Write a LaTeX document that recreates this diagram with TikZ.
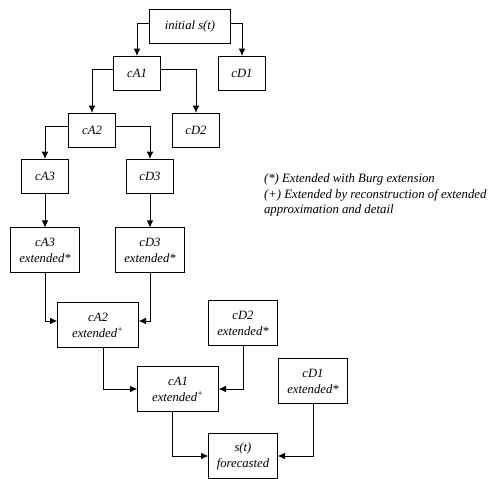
\documentclass[tikz,border=0pt]{standalone}
\usepackage{fontspec}
\setmainfont{Liberation Serif}
\usetikzlibrary{positioning,arrows.meta}
\tikzstyle{every node}=[font=\fontsize{9.5}{10}\selectfont\itshape,inner sep=0, outer sep=0]
\tikzstyle{blk}=[draw,rectangle,minimum width=35pt,minimum height=25.5pt,align=center]
\tikzstyle{ext}=[draw,rectangle,minimum width=52pt,minimum height=33.5pt,align=center]
\tikzstyle{rec}=[draw,rectangle,minimum width=61pt,minimum height=33.5pt,align=center]
\tikzstyle{arr}=[-{Latex[length=5.5pt,width=5pt]},line width=0.7pt]

\begin{document}
\begin{tikzpicture}[x=0.75pt,y=-0.75pt]
		\useasboundingbox (0,0) rectangle (494,479);
		% decomposition tree
		\node[blk,minimum width=61pt] (init) at (190,26) {initial s(t)};
		\node[blk] (cA1) at (137,73) {cA1};
		\node[blk] (cD1) at (242,73) {cD1};
		\node[blk] (cA2) at (92,130) {cA2};
		\node[blk] (cD2) at (196,130) {cD2};
		\node[blk] (cA3) at (45,176) {cA3};
		\node[blk] (cD3) at (150,176) {cD3};
		% extension and reconstruction
		\node[ext] (cA3x) at (45,250) {cA3\\[2pt]extended*};
		\node[ext] (cD3x) at (150,250) {cD3\\[2pt]extended*};
		\node[rec] (cA2x) at (98,325) {cA2\\[2pt]extended\textsuperscript{+}};
		\node[ext] (cD2x) at (243,323) {cD2\\[2pt]extended*};
		\node[rec] (cA1x) at (178,389) {cA1\\[2pt]extended\textsuperscript{+}};
		\node[ext] (cD1x) at (313,381) {cD1\\[2pt]extended*};
		\node[ext] (sf) at (243,456) {s(t)\\[2pt]forecasted};
		\node[anchor=north west,align=left,font=\fontsize{9.6}{11.5}\selectfont\itshape] (note) at (264,174)
			{(*) Extended with Burg extension\\(+) Extended by reconstruction of extended\\approximation and detail};
		\draw[arr] ([yshift=2pt]init.west) -| (cA1.north);
		\draw[arr] ([yshift=2pt]init.east) -| (cD1.north);
		\draw[arr] ([yshift=3pt]cA1.west) -| (cA2.north);
		\draw[arr] ([yshift=3pt]cA1.east) -| (cD2.north);
		\draw[arr] ([yshift=3pt]cA2.west) -| (cA3.north);
		\draw[arr] ([yshift=3pt]cA2.east) -| (cD3.north);
		\draw[arr] (cA3) -- (cA3x);
		\draw[arr] (cD3) -- (cD3x);
		\draw[arr] (cA3x.south) |- ([yshift=3pt]cA2x.west);
		\draw[arr] (cD3x.south) |- ([yshift=3pt]cA2x.east);
		\draw[arr] ([xshift=4pt]cA2x.south) |- (cA1x.west);
		\draw[arr] (cD2x.south) |- (cA1x.east);
		\draw[arr] ([xshift=-4pt]cA1x.south) |- (sf.west);
		\draw[arr] (cD1x.south) |- (sf.east);
	\end{tikzpicture}
\end{document}
